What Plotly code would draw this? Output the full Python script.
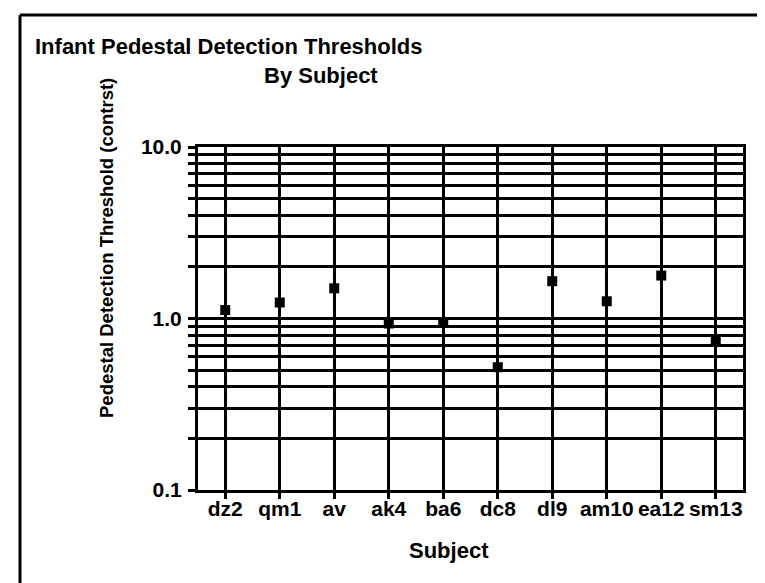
import plotly.graph_objects as go

subjects = ['dz2', 'qm1', 'av', 'ak4', 'ba6', 'dc8', 'dl9', 'am10', 'ea12', 'sm13']
thresholds = [1.12, 1.24, 1.50, 0.935, 0.95, 0.52, 1.65, 1.26, 1.78, 0.75]

# log grid positions, only the decades get a label
grid_vals = [0.1, 0.2, 0.3, 0.4, 0.5, 0.6, 0.7, 0.8, 0.9,
             1, 2, 3, 4, 5, 6, 7, 8, 9, 10]
grid_text = ['0.1', '', '', '', '', '', '', '', '',
             '1.0', '', '', '', '', '', '', '', '', '10.0']

W, H = 765, 583
L, R, T, B = 190, 30, 139, 101
pw, ph = W - L - R, H - T - B

def px(x):
    return (x - L) / pw

def py(y):
    return (H - B - y) / ph

font = 'Liberation Sans, Arial, sans-serif'
tick_font = dict(family=font, size=21, color='black', weight='bold')

fig = go.Figure()
fig.add_trace(go.Scatter(
    x=subjects, y=thresholds, mode='markers',
    marker=dict(symbol='square', size=10, color='black'),
    showlegend=False,
))

fig.update_xaxes(
    type='category', range=[-0.5, 9.5],
    showgrid=True, gridcolor='black', gridwidth=3,
    showline=True, linecolor='black', linewidth=3, mirror=True,
    ticks='outside', ticklen=6, tickwidth=2.5, tickcolor='black',
    tickfont=tick_font, ticklabelstandoff=-8,
)
fig.update_yaxes(
    type='log', range=[-1, 1],
    tickvals=grid_vals, ticktext=grid_text,
    showgrid=True, gridcolor='black', gridwidth=3,
    showline=True, linecolor='black', linewidth=3, mirror=True,
    ticks='outside', ticklen=7, tickwidth=2.5, tickcolor='black',
    tickfont=tick_font, ticklabelstandoff=2,
    zeroline=False,
)

fig.update_layout(
    width=W, height=H,
    margin=dict(l=L, r=R, t=T, b=B),
    paper_bgcolor='white', plot_bgcolor='white',
    shapes=[
        # border of the scanned page (top and left only)
        dict(type='line', xref='paper', yref='paper',
             x0=px(12), x1=px(765), y0=py(7), y1=py(7),
             line=dict(color='black', width=3)),
        dict(type='line', xref='paper', yref='paper',
             x0=px(12), x1=px(12), y0=py(7), y1=py(583),
             line=dict(color='black', width=3)),
    ],
    annotations=[
        dict(text='<b>Infant Pedestal Detection Thresholds</b>', xref='paper', yref='paper',
             x=px(25), y=py(38), xanchor='left', yanchor='middle', showarrow=False,
             font=dict(family=font, size=22, color='black')),
        dict(text='<b>By Subject</b>', xref='paper', yref='paper',
             x=px(313), y=py(67), xanchor='center', yanchor='middle', showarrow=False,
             font=dict(family=font, size=22, color='black')),
        dict(text='<b>Pedestal Detection Threshold (contrst)</b>', xref='paper', yref='paper',
             x=px(98), y=py(240), xanchor='center', yanchor='middle', showarrow=False,
             textangle=-90, font=dict(family=font, size=18.5, color='black')),
        dict(text='<b>Subject</b>', xref='paper', yref='paper',
             x=px(441), y=py(542), xanchor='center', yanchor='middle', showarrow=False,
             font=dict(family=font, size=22, color='black')),
    ],
)

fig.write_html('out.html')
